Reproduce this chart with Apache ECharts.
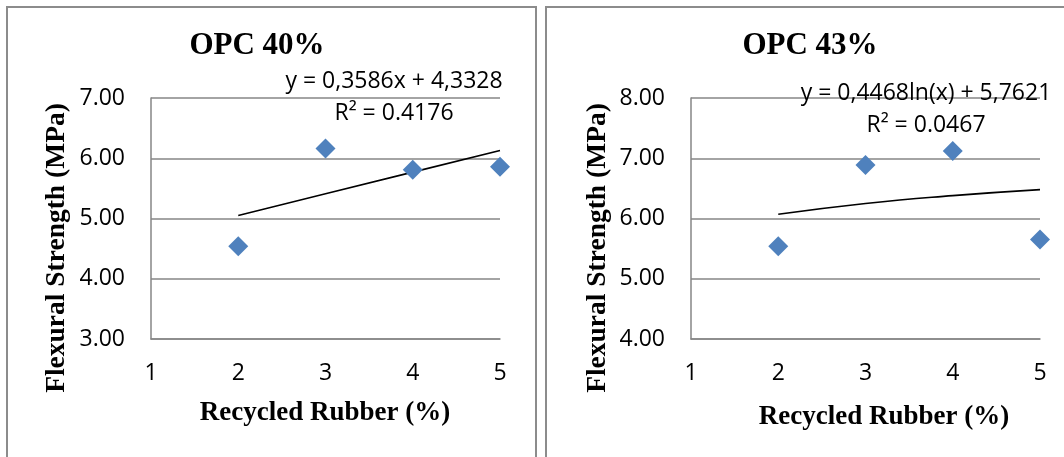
<!DOCTYPE html>
<html>
	<head>
		<meta charset="UTF-8">
		<title></title>
		<script src="https://cdn.jsdelivr.net/npm/echarts@6/dist/echarts.min.js"></script>
	</head>
	<body style="margin:0;background:#fff;">
		<div id="chart" style="width:1064px;height:457px;"></div>
		<script>
			// data
			var rubber = [2, 3, 4, 5];
			var strength40 = [4.54, 6.16, 5.81, 5.86];
			var strength43 = [5.54, 6.89, 7.12, 5.65];
			// trendline values read at each x
			var trend40 = [5.05, 5.41, 5.77, 6.13];
			var trend43 = [6.07, 6.25, 6.38, 6.48];
			var xTicks = [1, 5, 1];      // min, max, interval
			var yTicks40 = [3, 7, 1];
			var yTicks43 = [4, 8, 1];
			var titles = ['OPC 40%', 'OPC 43%'];
			var equations = ['y = 0,3586x + 4,3328', 'y = 0,4468ln(x) + 5,7621'];
			var r2 = ['R² = 0.4176', 'R² = 0.0467'];
			var xName = 'Recycled Rubber (%)';
			var yName = 'Flexural Strength (MPa)';

			var sans = "'Open Sans'";
			var serif = "'Liberation Serif'";
			var gridColor = '#868686';

			function pairs(xs, ys) {
				var out = [];
				for (var i = 0; i < xs.length; i++) out.push([xs[i], ys[i]]);
				return out;
			}

			function xAxisOf(idx) {
				return {
					gridIndex: idx, type: 'value',
					min: xTicks[0], max: xTicks[1], interval: xTicks[2],
					axisLine: {show: true, lineStyle: {color: gridColor, width: 1.5}},
					axisTick: {show: false},
					splitLine: {show: false},
					axisLabel: {color: '#000', fontFamily: sans, fontSize: 23, margin: 23}
				};
			}
			function yAxisOf(idx, t) {
				return {
					gridIndex: idx, type: 'value',
					min: t[0], max: t[1], interval: t[2],
					axisLine: {show: true, lineStyle: {color: gridColor, width: 1.5}},
					axisTick: {show: false},
					splitLine: {show: true, lineStyle: {color: gridColor, width: 1.5}},
					axisLabel: {
						color: '#000', fontFamily: sans, fontSize: 23, margin: 26,
						formatter: function (v) { return v.toFixed(2); }
					}
				};
			}
			function txt(x, y, s, font, size, bold, rot) {
				return {
					type: 'text', x: x, y: y, rotation: rot || 0,
					style: {
						text: s, fill: '#000', font: (bold ? 'bold ' : '') + size + 'px ' + font,
						textAlign: 'center', textVerticalAlign: 'middle'
					},
					z: 10
				};
			}

			var option = {
				animation: false,
				grid: [
					{left: 151, right: 564, top: 98, bottom: 118},
					{left: 691, right: 24, top: 98, bottom: 118}
				],
				xAxis: [xAxisOf(0), xAxisOf(1)],
				yAxis: [yAxisOf(0, yTicks40), yAxisOf(1, yTicks43)],
				series: [
					{
						type: 'line', xAxisIndex: 0, yAxisIndex: 0,
						data: pairs(rubber, trend40), showSymbol: false,
						lineStyle: {color: '#000', width: 1.6}, z: 3
					},
					{
						type: 'scatter', xAxisIndex: 0, yAxisIndex: 0, clip: false,
						data: pairs(rubber, strength40),
						symbol: 'diamond', symbolSize: 20,
						itemStyle: {color: '#4F81BD', opacity: 1}, z: 4
					},
					{
						type: 'line', xAxisIndex: 1, yAxisIndex: 1, smooth: true,
						data: pairs(rubber, trend43), showSymbol: false,
						lineStyle: {color: '#000', width: 1.6}, z: 3
					},
					{
						type: 'scatter', xAxisIndex: 1, yAxisIndex: 1, clip: false,
						data: pairs(rubber, strength43),
						symbol: 'diamond', symbolSize: 20,
						itemStyle: {color: '#4F81BD', opacity: 1}, z: 4
					}
				],
				graphic: [
					// panel frames
					{type: 'rect', shape: {x: 7, y: 7, width: 529, height: 470},
						style: {fill: 'none', stroke: '#8c8c8c', lineWidth: 2}},
					{type: 'rect', shape: {x: 546, y: 7, width: 540, height: 470},
						style: {fill: 'none', stroke: '#8c8c8c', lineWidth: 2}},
					txt(257, 46, titles[0], serif, 31, true),
					txt(810, 46, titles[1], serif, 31, true),
					txt(394, 81, equations[0], sans, 23),
					txt(394, 113, r2[0], sans, 23),
					txt(926, 93, equations[1], sans, 23),
					txt(926, 125, r2[1], sans, 23),
					txt(325, 413, xName, serif, 27, true),
					txt(884, 417, xName, serif, 27, true),
					txt(57, 248, yName, serif, 27.5, true, Math.PI / 2),
					txt(598, 248, yName, serif, 27.5, true, Math.PI / 2)
				]
			};

			var myChart = echarts.init(document.getElementById('chart'));
			myChart.setOption(option);
		</script>
	</body>
</html>
